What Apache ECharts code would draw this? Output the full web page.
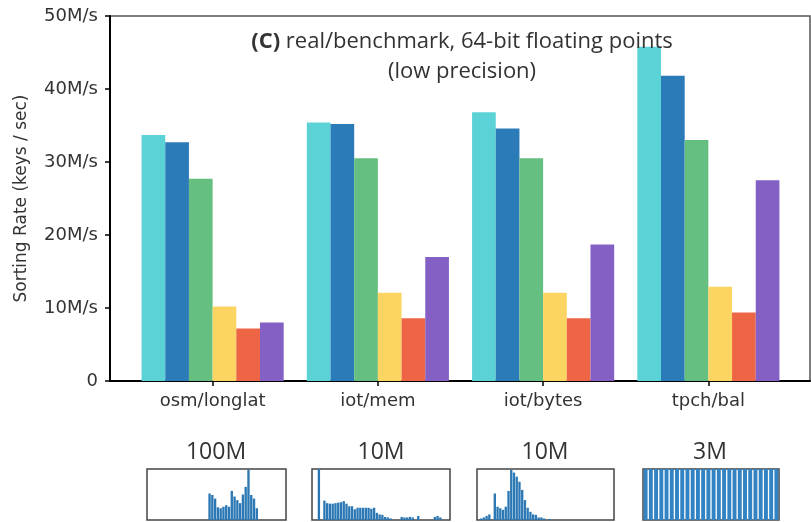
<!DOCTYPE html>
<html lang="en">
<head>
    <meta charset="UTF-8">
    <title>Sorting Rate</title>
    <script src="https://cdn.jsdelivr.net/npm/echarts@6/dist/echarts.min.js"></script>
    <style>
        body, html {
            margin: 0;
            padding: 0;
            background: #fff;
        }

        #chart {
            width: 811px;
            height: 522px;
        }
    </style>
</head>
<body>
<div id="chart"></div>

<script>
    // datasets on the x axis
    const categories = ['osm/longlat', 'iot/mem', 'iot/bytes', 'tpch/bal'];

    // sorting rate, M keys / sec, one array per algorithm (left to right in each group)
    const rateCyan = [33.7, 35.4, 36.8, 45.8];
    const rateBlue = [32.7, 35.2, 34.6, 41.8];
    const rateGreen = [27.7, 30.5, 30.5, 33.0];
    const rateYellow = [10.2, 12.1, 12.1, 12.9];
    const rateRed = [7.2, 8.6, 8.6, 9.4];
    const ratePurple = [8.0, 17.0, 18.7, 27.5];

    const yTicks = [0, 10, 20, 30, 40, 50];

    // key distribution thumbnails under each dataset (relative bin heights)
    const sizeLabels = ['100M', '10M', '10M', '3M'];
    const histOsm = [0, 0, 0, 0, 0, 0, 0, 0, 0, 0, 0, 0, 0, 0, 0, 0, 0, 0, 0, 0, 0, 0,
        0.52, 0.49, 0.42, 0.25, 0.23, 0.26, 0.29, 0.26, 0.57, 0.46, 0.39, 0.33, 0.50, 0.65, 0.98, 0.49, 0.42, 0.23,
        0, 0, 0, 0, 0, 0, 0, 0, 0, 0];
    const histIotMem = [0, 0, 1.0, 0, 0.38, 0.33, 0.32, 0.32, 0.33, 0.34, 0.35, 0.37, 0.32, 0.27, 0.27, 0.21,
        0.24, 0.24, 0.24, 0.24, 0.24, 0.22, 0.24, 0.14, 0.11, 0.10, 0.06, 0.05, 0.03, 0, 0, 0,
        0.06, 0.05, 0.05, 0.06, 0.05, 0, 0.08, 0, 0, 0, 0, 0, 0.06, 0.08, 0.05, 0, 0, 0];
    const histIotBytes = [0, 0.03, 0.05, 0.08, 0.11, 0, 0.52, 0.26, 0.23, 0.20, 0.26, 0.57, 0.98, 0.93, 0.85,
        0.75, 0.59, 0.39, 0.24, 0.16, 0.11, 0.10, 0.05, 0.05, 0.03, 0, 0.02, 0, 0, 0,
        0, 0, 0, 0, 0, 0, 0, 0, 0, 0, 0, 0, 0, 0, 0, 0, 0, 0, 0, 0];
    const histTpch = [1, 1, 1, 1, 1, 1, 1, 1, 1, 1, 1, 1, 1, 1, 1, 1, 1, 1, 1, 1, 1, 1, 1, 1, 1, 1];

    const colors = ['#5bd2d6', '#2b7bb9', '#64bf80', '#fbd462', '#ee6546', '#8460c4'];
    const rates = [rateCyan, rateBlue, rateGreen, rateYellow, rateRed, ratePurple];
    const hists = [histOsm, histIotMem, histIotBytes, histTpch];

    const tickFont = 'DejaVu Sans';
    const titleFont = 'Open Sans';
    const textColor = '#333';

    // histogram boxes (left, width)
    const histBoxes = [[147, 139], [312, 138], [477, 137], [643, 136]];
    const labelCenters = [216, 381, 545, 710];

    const chart = echarts.init(document.getElementById('chart'));

    const grids = [
        // frame + y axis
        {left: 110, right: 1, top: 16, bottom: 141, show: true, borderColor: '#555', borderWidth: 1.5},
        // bars
        {left: 130, right: 20, top: 16, bottom: 141}
    ];
    histBoxes.forEach(b => {
        grids.push({left: b[0], width: b[1], top: 469, height: 51, show: true, borderColor: '#444', borderWidth: 1.5});
    });

    const xAxes = [
        {
            type: 'value', gridIndex: 0, min: 0, max: 1,
            axisLine: {show: true, lineStyle: {color: '#000', width: 2}},
            axisTick: {show: false}, axisLabel: {show: false}, splitLine: {show: false}
        },
        {
            type: 'category', gridIndex: 1, data: categories,
            axisLine: {show: false},
            axisTick: {show: true, alignWithLabel: true, length: 5, lineStyle: {color: '#000', width: 1.5}},
            axisLabel: {fontSize: 18, fontFamily: tickFont, color: textColor, margin: 11}
        }
    ];
    const yAxes = [
        {
            type: 'value', gridIndex: 0, min: 0, max: 50, interval: 10,
            axisLine: {show: true, lineStyle: {color: '#000', width: 2}},
            axisTick: {show: true, length: 5, lineStyle: {color: '#000', width: 1.5}},
            axisLabel: {
                fontSize: 18, fontFamily: tickFont, color: textColor, margin: 12,
                formatter: v => yTicks.includes(v) ? (v === 0 ? '0' : v + 'M/s') : ''
            },
            splitLine: {show: false},
            name: 'Sorting Rate (keys / sec)',
            nameLocation: 'middle',
            nameGap: 80,
            nameTextStyle: {fontSize: 17, fontFamily: tickFont, color: textColor}
        },
        {type: 'value', gridIndex: 1, min: 0, max: 50, show: false}
    ];

    const series = rates.map((data, i) => ({
        name: 'algo' + (i + 1),
        type: 'bar',
        xAxisIndex: 1,
        yAxisIndex: 1,
        data: data,
        barGap: '0%',
        barCategoryGap: '14%',
        itemStyle: {color: colors[i]}
    }));

    hists.forEach((h, i) => {
        const idx = i + 2;
        xAxes.push({
            type: 'category', gridIndex: idx, show: false,
            data: h.map((_, k) => k)
        });
        yAxes.push({type: 'value', gridIndex: idx, min: 0, max: 1, show: false});
        series.push({
            name: 'dist' + i,
            type: 'bar',
            xAxisIndex: idx,
            yAxisIndex: idx,
            data: h,
            barCategoryGap: i === 3 ? '25%' : '15%',
            itemStyle: {color: i === 3 ? '#3283c3' : '#2b78b4'},
            silent: true
        });
    });

    const titles = [{
        text: '{b|(C)} real/benchmark, 64-bit floating points\n(low precision)',
        left: 462,
        top: 27,
        padding: 0,
        textAlign: 'center',
        textStyle: {
            fontFamily: titleFont,
            fontSize: 22,
            fontWeight: 'normal',
            color: textColor,
            lineHeight: 30,
            rich: {
                b: {fontFamily: titleFont, fontSize: 22, fontWeight: 'bold', color: textColor, lineHeight: 30}
            }
        }
    }];
    sizeLabels.forEach((s, i) => {
        titles.push({
            text: s,
            left: labelCenters[i],
            top: 440,
            padding: 0,
            textAlign: 'center',
            textStyle: {fontFamily: titleFont, fontSize: 23, fontWeight: 'normal', color: textColor, lineHeight: 24}
        });
    });

    chart.setOption({
        animation: false,
        title: titles,
        grid: grids,
        xAxis: xAxes,
        yAxis: yAxes,
        series: series
    });
</script>

</body>
</html>
